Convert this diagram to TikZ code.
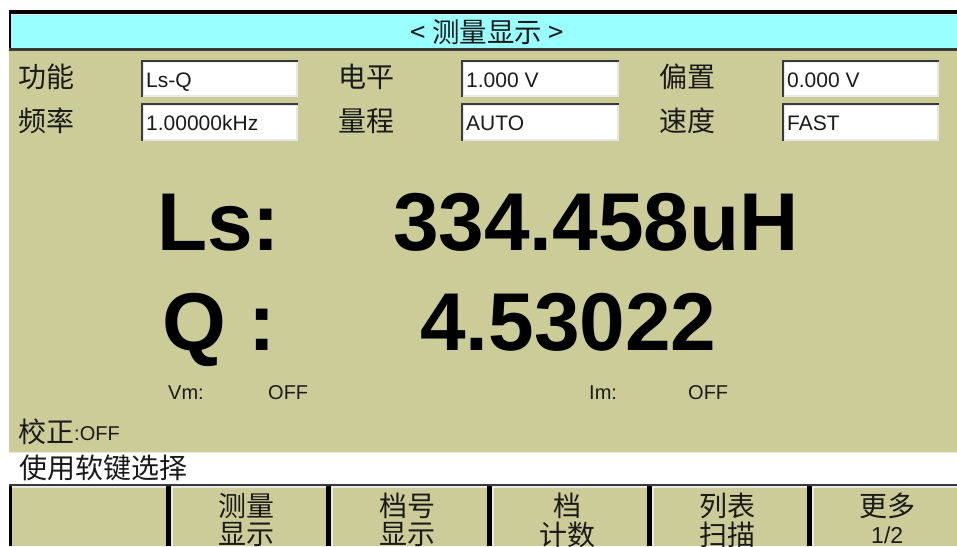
\documentclass[tikz,border=0pt]{standalone}
\usepackage{fontspec}
\setmainfont{Liberation Sans}
\newfontfamily\cjk{Noto Sans CJK SC}
\definecolor{khaki}{HTML}{CCCC99}
\definecolor{cyanbar}{HTML}{99FFFF}
\definecolor{ink}{HTML}{1A1A1A}
\definecolor{edge}{HTML}{3A3A3A}
\definecolor{lightedge}{HTML}{E8E8E8}
\tikzset{
  x=1pt,y=-1pt,
  lab/.style={inner sep=0pt,anchor=center,text=ink,font=\cjk\fontsize{28}{28}\selectfont},
  val/.style={inner sep=0pt,anchor=base west,text=ink,font=\fontsize{21}{21}\selectfont},
  tiny/.style={inner sep=0pt,anchor=base west,text=ink,font=\fontsize{20}{20}\selectfont},
  big/.style={inner sep=0pt,anchor=base west,text=black,font=\bfseries\fontsize{82}{82}\selectfont},
  key/.style={inner sep=0pt,anchor=center,text=ink,font=\cjk\fontsize{28}{28}\selectfont},
}
\newcommand{\fieldbox}[5]{%
  \fill[lightedge] (#1,#2) rectangle (#3,#4);
  \fill[white] (#1+3,#2+3) rectangle (#3-2,#4-2);
  \fill[edge] (#1,#2) rectangle (#3,#2+2);
  \fill[edge] (#1,#2) rectangle (#1+2,#4);
  \node[val] at (#1+5,#2+27) {#5};
}
\newcommand{\softkey}[2]{%
  \fill[black] (#1,486) rectangle (#1+5,546);
  \fill[lightedge] (#1+5,486) rectangle (#1+6.5,546);
  \fill[lightedge] (#1+5,486) rectangle (#2,488);
}
\begin{document}
\begin{tikzpicture}
\useasboundingbox (0,0) rectangle (957,546);
\clip (0,0) rectangle (957,546);
\fill[white] (0,0) rectangle (957,546);
% title bar
\fill[black] (9,10) rectangle (957,14);
\fill[lightedge] (9,14) rectangle (957,15);
\fill[cyanbar] (11,15) rectangle (957,48);
\fill[black] (9,10) rectangle (11,51);
\fill[edge] (9,48) rectangle (957,51);
\node[lab,font=\cjk\fontsize{27.5}{27.5}\selectfont] (title) at (487,32) {< 测量显示 >};
% panel
\fill[khaki] (9,51) rectangle (957,452);
\fill[white] (9,452) rectangle (957,484);
\fill[lightedge] (9,452) rectangle (957,453);
% labels
\node[lab] (l1) at (46,77) {功能};
\node[lab] (l2) at (46,121) {频率};
\node[lab] (l3) at (366,77) {电平};
\node[lab] (l4) at (366,121) {量程};
\node[lab] (l5) at (687,77) {偏置};
\node[lab] (l6) at (687,121) {速度};
% fields
\fieldbox{141}{60}{298}{97}{Ls-Q}
\fieldbox{141}{103}{298}{141}{1.00000kHz}
\fieldbox{461}{60}{619}{97}{1.000 V}
\fieldbox{461}{103}{619}{141}{AUTO}
\fieldbox{782}{60}{939}{97}{0.000 V}
\fieldbox{782}{103}{939}{141}{FAST}
% big readings
\node[big] (b1) at (157,250) {Ls:};
\node[big] (b2) at (393,250) {334.458uH};
\node[big] (b3) at (162,350) {Q :};
\node[big] (b4) at (420,350) {4.53022};
% status
\node[tiny] (s1) at (168,399) {Vm:};
\node[tiny] (s2) at (268,399) {OFF};
\node[tiny] (s3) at (589,399) {Im:};
\node[tiny] (s4) at (688,399) {OFF};
\node[lab] (c1) at (46,432) {校正};
\node[tiny] (c2) at (74,440) {:OFF};
\node[lab,anchor=west] (hint) at (19,468) {使用软键选择};
% soft keys
\fill[edge] (9,484) rectangle (957,486);
\fill[khaki] (9,486) rectangle (957,546);
\softkey{166}{326}
\softkey{326}{487}
\softkey{487}{647}
\softkey{647}{807}
\softkey{807}{957}
\fill[black] (9,486) rectangle (12,546);
\fill[lightedge] (12,486) rectangle (166,488);
\node[key] (k1a) at (246,506) {测量};
\node[key] (k1b) at (246,535) {显示};
\node[key] (k2a) at (407,506) {档号};
\node[key] (k2b) at (407,535) {显示};
\node[key] (k3a) at (567,506) {档};
\node[key] (k3b) at (567,535) {计数};
\node[key] (k4a) at (727,506) {列表};
\node[key] (k4b) at (727,535) {扫描};
\node[key] (k5a) at (887,506) {更多};
\node[val,font=\fontsize{23}{23}\selectfont] (k5b) at (871,543) {1/2};
\end{tikzpicture}
\end{document}
